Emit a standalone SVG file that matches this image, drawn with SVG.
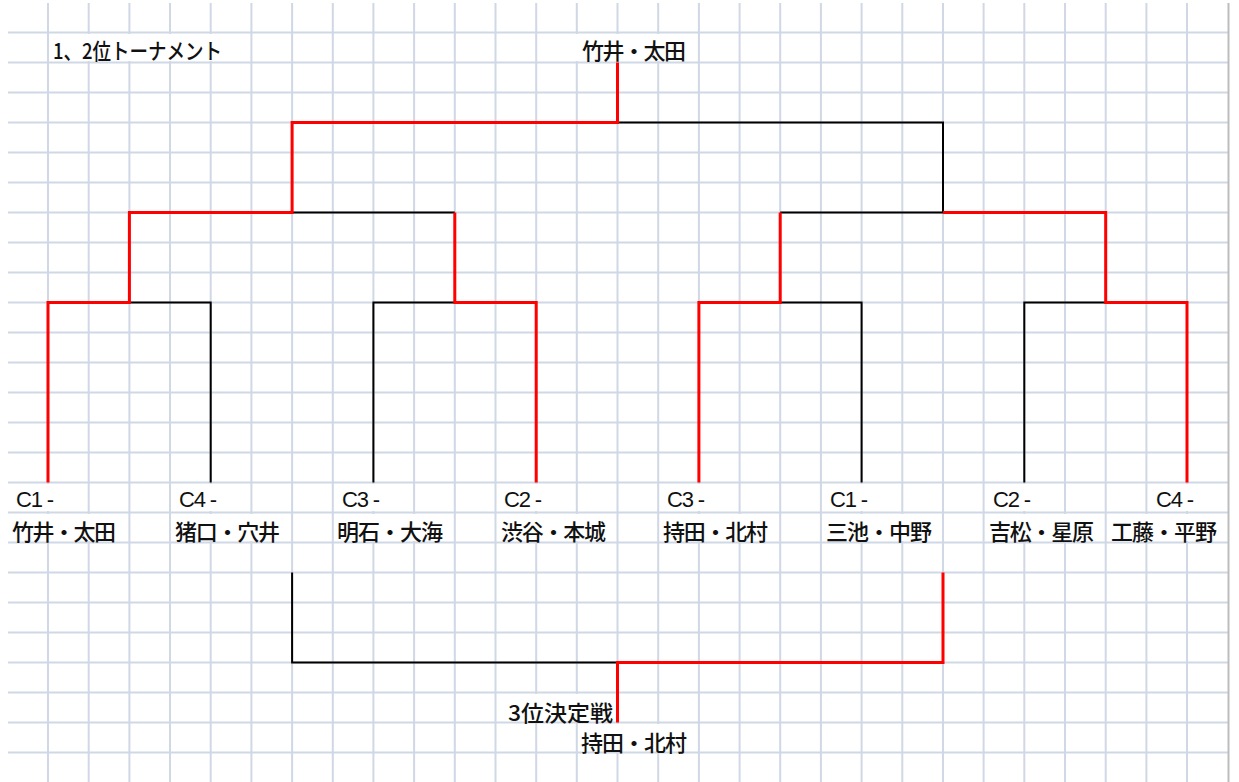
<svg xmlns="http://www.w3.org/2000/svg" width="1239" height="782" viewBox="0 0 1239 782">
<style>
.g line{stroke:#d0d7e5;stroke-width:2}
.m{fill:#ffffff}
.r{fill:none;stroke:#ff0000;stroke-width:3;stroke-linejoin:miter}
.b{fill:none;stroke:#000000;stroke-width:2;stroke-linejoin:miter}
text{font-family:"Liberation Sans","Noto Sans CJK JP",sans-serif;fill:#111111;font-size:22px}
.jp{font-family:"Noto Sans CJK JP","Liberation Sans",sans-serif;font-weight:500}
</style>
<rect x="0" y="0" width="1239" height="782" fill="#ffffff"/>
<g class="g" id="grid">
<line x1="8" y1="32.5" x2="1228" y2="32.5"/>
<line x1="8" y1="62.5" x2="1228" y2="62.5"/>
<line x1="8" y1="92.5" x2="1228" y2="92.5"/>
<line x1="8" y1="122.5" x2="1228" y2="122.5"/>
<line x1="8" y1="152.5" x2="1228" y2="152.5"/>
<line x1="8" y1="182.5" x2="1228" y2="182.5"/>
<line x1="8" y1="212.5" x2="1228" y2="212.5"/>
<line x1="8" y1="242.5" x2="1228" y2="242.5"/>
<line x1="8" y1="272.5" x2="1228" y2="272.5"/>
<line x1="8" y1="302.5" x2="1228" y2="302.5"/>
<line x1="8" y1="332.5" x2="1228" y2="332.5"/>
<line x1="8" y1="362.5" x2="1228" y2="362.5"/>
<line x1="8" y1="392.5" x2="1228" y2="392.5"/>
<line x1="8" y1="422.5" x2="1228" y2="422.5"/>
<line x1="8" y1="452.5" x2="1228" y2="452.5"/>
<line x1="8" y1="482.5" x2="1228" y2="482.5"/>
<line x1="8" y1="512.5" x2="1228" y2="512.5"/>
<line x1="8" y1="542.5" x2="1228" y2="542.5"/>
<line x1="8" y1="572.5" x2="1228" y2="572.5"/>
<line x1="8" y1="602.5" x2="1228" y2="602.5"/>
<line x1="8" y1="632.5" x2="1228" y2="632.5"/>
<line x1="8" y1="662.5" x2="1228" y2="662.5"/>
<line x1="8" y1="692.5" x2="1228" y2="692.5"/>
<line x1="8" y1="722.5" x2="1228" y2="722.5"/>
<line x1="8" y1="752.5" x2="1228" y2="752.5"/>
<line x1="48" y1="3" x2="48" y2="782"/>
<line x1="88.7" y1="3" x2="88.7" y2="782"/>
<line x1="129.4" y1="3" x2="129.4" y2="782"/>
<line x1="170" y1="3" x2="170" y2="782"/>
<line x1="210.7" y1="3" x2="210.7" y2="782"/>
<line x1="251.4" y1="3" x2="251.4" y2="782"/>
<line x1="292.1" y1="3" x2="292.1" y2="782"/>
<line x1="332.8" y1="3" x2="332.8" y2="782"/>
<line x1="373.4" y1="3" x2="373.4" y2="782"/>
<line x1="414.1" y1="3" x2="414.1" y2="782"/>
<line x1="454.8" y1="3" x2="454.8" y2="782"/>
<line x1="495.5" y1="3" x2="495.5" y2="782"/>
<line x1="536.2" y1="3" x2="536.2" y2="782"/>
<line x1="576.8" y1="3" x2="576.8" y2="782"/>
<line x1="617.5" y1="3" x2="617.5" y2="782"/>
<line x1="658.2" y1="3" x2="658.2" y2="782"/>
<line x1="698.9" y1="3" x2="698.9" y2="782"/>
<line x1="739.6" y1="3" x2="739.6" y2="782"/>
<line x1="780.2" y1="3" x2="780.2" y2="782"/>
<line x1="820.9" y1="3" x2="820.9" y2="782"/>
<line x1="861.6" y1="3" x2="861.6" y2="782"/>
<line x1="902.3" y1="3" x2="902.3" y2="782"/>
<line x1="943" y1="3" x2="943" y2="782"/>
<line x1="983.6" y1="3" x2="983.6" y2="782"/>
<line x1="1024.3" y1="3" x2="1024.3" y2="782"/>
<line x1="1065" y1="3" x2="1065" y2="782"/>
<line x1="1105.7" y1="3" x2="1105.7" y2="782"/>
<line x1="1146.4" y1="3" x2="1146.4" y2="782"/>
<line x1="1187" y1="3" x2="1187" y2="782"/>
<line x1="1228.5" y1="3" x2="1228.5" y2="782" style="stroke:#bdbdbd"/>
</g>
<g id="masks">
<rect class="m" x="50" y="34" width="176" height="27"/>
<rect class="m" x="574" y="34" width="120" height="27"/>
<rect class="m" x="14" y="484" width="43" height="27"/>
<rect class="m" x="177" y="484" width="43" height="27"/>
<rect class="m" x="340" y="484" width="43" height="27"/>
<rect class="m" x="502" y="484" width="43" height="27"/>
<rect class="m" x="665" y="484" width="43" height="27"/>
<rect class="m" x="828" y="484" width="43" height="27"/>
<rect class="m" x="991" y="484" width="43" height="27"/>
<rect class="m" x="1154" y="484" width="43" height="27"/>
<rect class="m" x="10" y="514" width="109" height="27"/>
<rect class="m" x="173" y="514" width="109" height="27"/>
<rect class="m" x="335" y="514" width="110" height="27"/>
<rect class="m" x="499" y="514" width="110" height="27"/>
<rect class="m" x="661" y="514" width="110" height="27"/>
<rect class="m" x="824" y="514" width="110" height="27"/>
<rect class="m" x="987" y="514" width="110" height="27"/>
<rect class="m" x="1109" y="514" width="110" height="27"/>
<rect class="m" x="506" y="694" width="108" height="27"/>
<rect class="m" x="579" y="724" width="110" height="27"/>
</g>
<g id="connectors">
<path class="b" d="M129.4,302.5 H210.7 V482.5"/>
<path class="b" d="M292.1,212.5 H454.8"/>
<path class="b" d="M373.4,482.5 V302.5 H454.8"/>
<path class="b" d="M617.5,122.5 H943 V212.5 H780.2"/>
<path class="b" d="M780.2,302.5 H861.6 V482.5"/>
<path class="b" d="M1024.3,482.5 V302.5 H1105.7"/>
<path class="b" d="M292.1,572.5 V662.5 H617.5"/>
<path class="r" d="M48,482.5 V302.5 H129.4 V212.5 H292.1 V122.5 H617.5 V62.5"/>
<path class="r" d="M454.8,212.5 V302.5 H536.2 V482.5"/>
<path class="r" d="M698.9,482.5 V302.5 H780.2 V212.5"/>
<path class="r" d="M943,212.5 H1105.7 V302.5 H1187 V482.5"/>
<path class="r" d="M943,572.5 V662.5 H617.5 V722.5"/>
</g>
<g id="title"><text class="jp" x="53" y="59" font-size="20" textLength="169" lengthAdjust="spacingAndGlyphs">1、2位トーナメント</text></g>
<g id="champion"><text class="jp" x="582" y="59" textLength="104" lengthAdjust="spacing">竹井・太田</text></g>
<g id="leaf1"><text x="16" y="507" textLength="38" lengthAdjust="spacing">C1 -</text><text class="jp" x="12" y="540" textLength="104" lengthAdjust="spacing">竹井・太田</text></g>
<g id="leaf2"><text x="179" y="507" textLength="38" lengthAdjust="spacing">C4 -</text><text class="jp" x="175" y="540" textLength="105" lengthAdjust="spacing">猪口・穴井</text></g>
<g id="leaf3"><text x="342" y="507" textLength="38" lengthAdjust="spacing">C3 -</text><text class="jp" x="337" y="540" textLength="106" lengthAdjust="spacing">明石・大海</text></g>
<g id="leaf4"><text x="504" y="507" textLength="38" lengthAdjust="spacing">C2 -</text><text class="jp" x="501" y="540" textLength="105" lengthAdjust="spacing">渋谷・本城</text></g>
<g id="leaf5"><text x="667" y="507" textLength="38" lengthAdjust="spacing">C3 -</text><text class="jp" x="663" y="540" textLength="105" lengthAdjust="spacing">持田・北村</text></g>
<g id="leaf6"><text x="830" y="507" textLength="38" lengthAdjust="spacing">C1 -</text><text class="jp" x="826" y="540" textLength="106" lengthAdjust="spacing">三池・中野</text></g>
<g id="leaf7"><text x="993" y="507" textLength="38" lengthAdjust="spacing">C2 -</text><text class="jp" x="989" y="540" textLength="105" lengthAdjust="spacing">吉松・星原</text></g>
<g id="leaf8"><text x="1156" y="507" textLength="38" lengthAdjust="spacing">C4 -</text><text class="jp" x="1111" y="540" textLength="106" lengthAdjust="spacing">工藤・平野</text></g>
<g id="third-label"><text class="jp" x="508" y="721" font-size="21" textLength="105" lengthAdjust="spacingAndGlyphs">3位決定戦</text></g>
<g id="third-winner"><text class="jp" x="581" y="751" textLength="106" lengthAdjust="spacing">持田・北村</text></g>
</svg>
